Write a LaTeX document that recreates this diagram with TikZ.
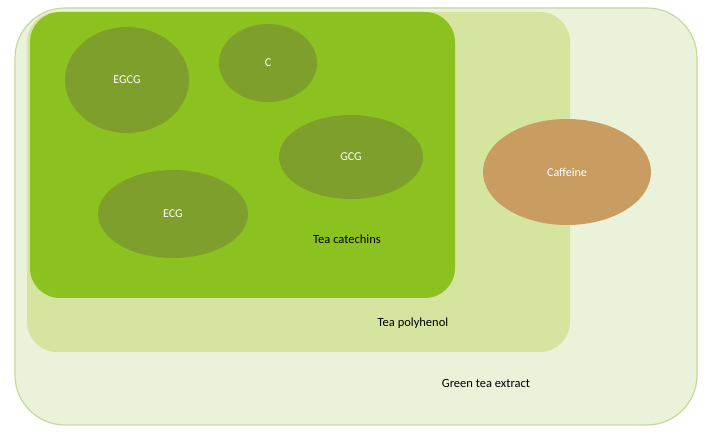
\documentclass[tikz,border=0pt]{standalone}
\usepackage{fontspec}
\setmainfont{Carlito}
\usetikzlibrary{shapes.geometric}
\definecolor{outerF}{HTML}{EBF2DA}
\definecolor{outerD}{HTML}{C5D99C}
\definecolor{midF}{HTML}{D5E49F}
\definecolor{inF}{HTML}{8CC220}
\definecolor{ellF}{HTML}{7E9F2C}
\definecolor{cafF}{HTML}{C99C62}
\begin{document}
\begin{tikzpicture}[x=1pt,y=-1pt,
  blob/.style={ellipse,fill=ellF,text=white,font=\fontsize{12}{14}\selectfont,inner sep=0},
  lab/.style={font=\fontsize{12.5}{15}\selectfont,text=black}]
\useasboundingbox (0,0) rectangle (715,435);
\draw[fill=outerF,draw=outerD,line width=1.2pt,rounded corners=50] (15,8) rectangle (697,425);
\fill[midF,rounded corners=30] (27,12) rectangle (570,352);
\fill[inF,rounded corners=30] (30,12) rectangle (455,298);
\node[blob,minimum width=124,minimum height=106] (egcg) at (127,80) {EGCG};
\node[blob,minimum width=98,minimum height=78] (c) at (268,63) {C};
\node[blob,minimum width=144,minimum height=84] (gcg) at (351,157) {GCG};
\node[blob,minimum width=150,minimum height=88] (ecg) at (173,214) {ECG};
\node[blob,fill=cafF,minimum width=168,minimum height=106] (caf) at (567,172) {Caffeine};
\node[lab] (tc) at (347,239) {Tea catechins};
\node[lab] (tp) at (413,323) {Tea polyhenol};
\node[lab] (gte) at (486,383) {Green tea extract};
\end{tikzpicture}
\end{document}
